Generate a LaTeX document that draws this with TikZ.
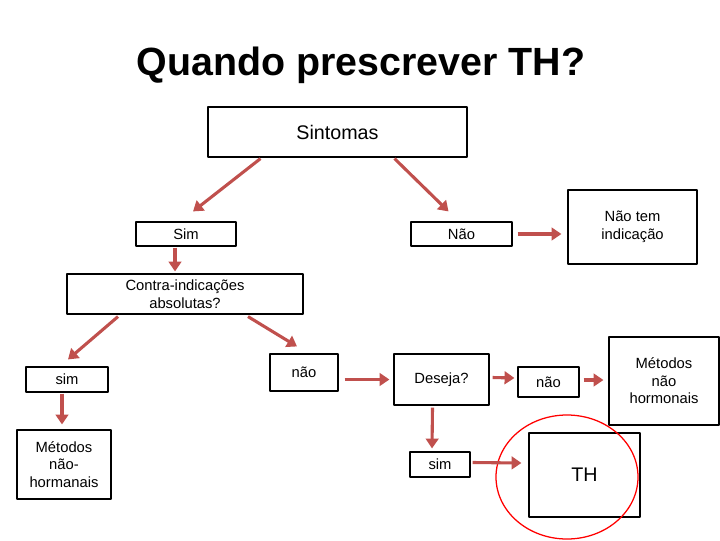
\documentclass[tikz,border=0pt]{standalone}
\usepackage{fontspec}
\setmainfont{Liberation Sans}
\usetikzlibrary{arrows.meta,calc}

\begin{document}
\begin{tikzpicture}[x=0.025cm,y=-0.025cm,line join=round,
    box/.style={draw,line width=0.8pt,inner sep=0pt,align=center,font=\fontsize{10.5}{12.5}\selectfont},
    arr/.style={draw={rgb,255:red,192;green,80;blue,77},line width=2.2pt,-{Triangle[length=7pt,width=9pt]}}]
    \useasboundingbox (0,0) rectangle (720,540);
    % title
    \node (title) at (361,65) {\fontsize{28}{32}\selectfont\bfseries Quando prescrever TH?};
    % boxes
    \node[box,minimum width=6.475cm,minimum height=1.25cm,font=\fontsize{14}{16}\selectfont] (sint) at (337.5,132) {Sintomas};
    \node[box,minimum width=2.5cm,minimum height=0.6cm] (sim) at (186,234) {Sim};
    \node[box,minimum width=2.525cm,minimum height=0.6cm] (nao) at (461.5,234) {Não};
    \node[box,minimum width=3.225cm,minimum height=1.85cm] (semind) at (632.5,227) {Não tem\\indicação};
    \node[box,minimum width=5.9cm,minimum height=1cm] (contra) at (185,294) {Contra-indicações\\absolutas?};
    \node[box,minimum width=2.05cm,minimum height=0.625cm] (sima) at (67,379.5) {sim};
    \node[box,minimum width=1.7cm,minimum height=0.925cm] (naoa) at (304,372.5) {não};
    \node[box,minimum width=2.375cm,minimum height=1.275cm] (deseja) at (441.5,379.5) {Deseja?};
    \node[box,minimum width=1.525cm,minimum height=0.75cm] (naob) at (548.5,382) {não};
    \node[box,minimum width=2.75cm,minimum height=2.2cm] (metnh) at (664,381) {Métodos\\não\\hormonais};
    \node[box,minimum width=2.35cm,minimum height=1.725cm] (methn) at (64,464.5) {Métodos\\não-\\hormanais};
    \node[box,minimum width=1.5cm,minimum height=0.625cm] (simb) at (440,464.5) {sim};
    \node[box,minimum width=2.775cm,minimum height=2.1cm,font=\fontsize{14}{16}\selectfont] (th) at (584.5,475) {TH};
    \draw[red,line width=0.9pt] (567,477) ellipse [x radius=71,y radius=62];
    % arrows
    \draw[arr] ($(sint.south)+(-77,1)$) -- ($(sim.north)+(7,-10)$);
    \draw[arr] ($(sint.south)+(57,1)$) -- ($(nao.north)+(-13,-10)$);
    \draw[arr] ($(nao.east)+(5,0)$) -- ($(semind.west)+(-6,7)$);
    \draw[arr] ($(sim.south)+(-11,1)$) -- ($(contra.north)+(-10,-2)$);
    \draw[arr] ($(contra.south)+(-67,2)$) -- ($(sima.north)+(1,-7)$);
    \draw[arr] ($(contra.south)+(63,2)$) -- ($(naoa.north)+(-7,-7)$);
    \draw[arr] ($(sima.south)+(-5,1)$) -- ($(methn.north)+(-2,-5)$);
    \draw[arr] ($(naoa.east)+(6,7)$) -- ($(deseja.west)+(-4,0)$);
    \draw[arr] ($(deseja.east)+(3,-2)$) -- ($(naob.west)+(-3,-4)$);
    \draw[arr] ($(naob.east)+(4,-2)$) -- ($(metnh.west)+(-5,-1)$);
    \draw[arr] ($(deseja.south)+(-9,2)$) -- ($(simb.north)+(-8,-3)$);
    \draw[arr] ($(simb.east)+(2,-2)$) -- ($(th.west)+(-7,-12)$);
\end{tikzpicture}
\end{document}
